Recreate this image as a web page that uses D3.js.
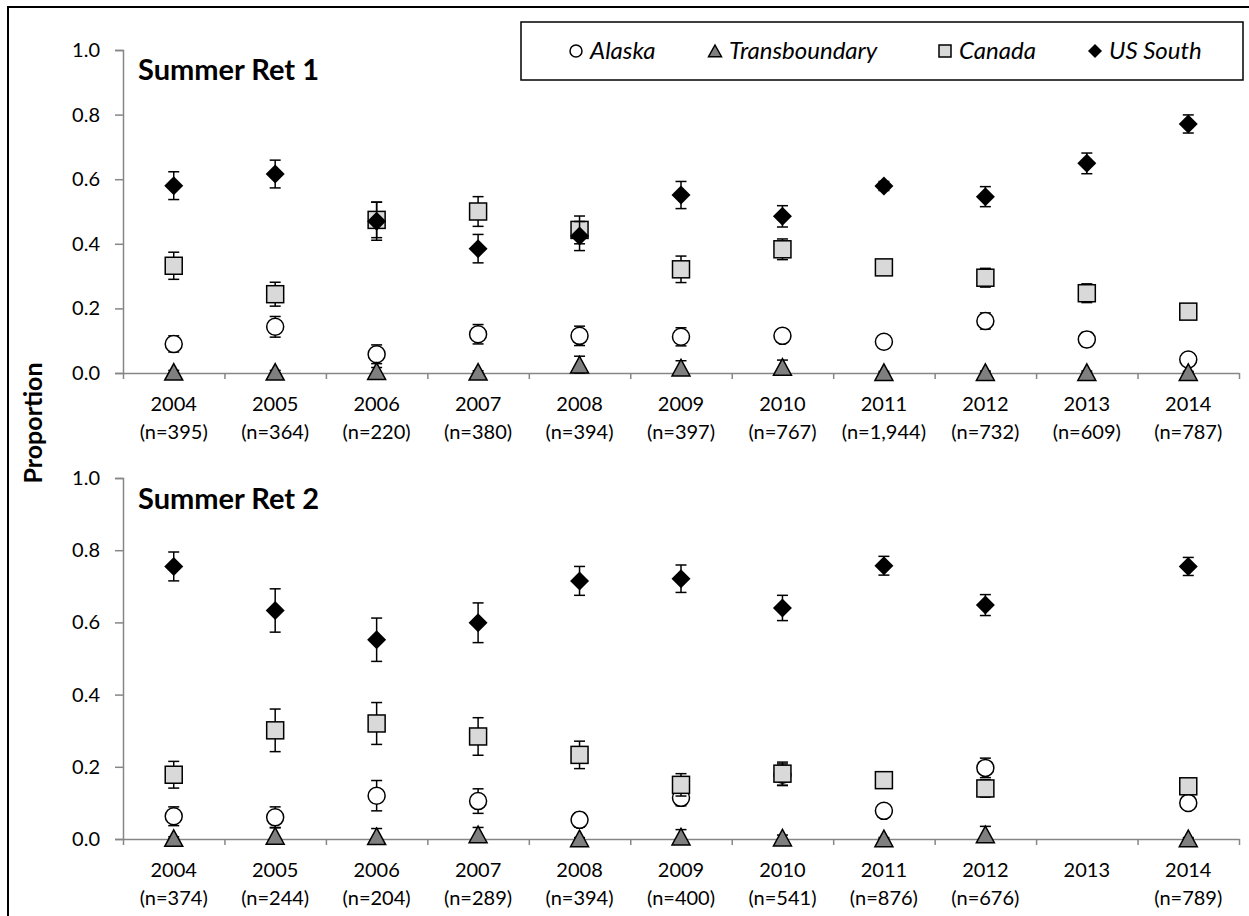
<!DOCTYPE html>
<html>
<head>
<meta charset="utf-8">
<script src="https://cdn.jsdelivr.net/npm/d3@7"></script>
<style>
  body { margin: 0; background: #fff; }
  svg { display: block; font-family: Lato, "Open Sans", sans-serif; }
</style>
</head>
<body>
<div id="chart"></div>
<script>
// years + sample size labels
const years = [2004, 2005, 2006, 2007, 2008, 2009, 2010, 2011, 2012, 2013, 2014];
const nRet1 = ["(n=395)", "(n=364)", "(n=220)", "(n=380)", "(n=394)", "(n=397)", "(n=767)", "(n=1,944)", "(n=732)", "(n=609)", "(n=787)"];
const nRet2 = ["(n=374)", "(n=244)", "(n=204)", "(n=289)", "(n=394)", "(n=400)", "(n=541)", "(n=876)", "(n=676)", "", "(n=789)"];
const yTicks = [0, 0.2, 0.4, 0.6, 0.8, 1.0];

// Summer Ret 1
const alaska1 = [0.090, 0.143, 0.058, 0.120, 0.115, 0.112, 0.115, 0.097, 0.161, 0.104, 0.042];
const alaska1Err = [0.025, 0.032, 0.029, 0.030, 0.030, 0.028, 0.020, 0.013, 0.025, 0.022, 0.014];
const trans1 = [0.003, 0.003, 0.005, 0.003, 0.025, 0.016, 0.018, 0.002, 0.002, 0.002, 0.002];
const trans1Err = [0.005, 0.005, 0.012, 0.004, 0.027, 0.022, 0.022, 0.003, 0.004, 0.004, 0.003];
const canada1 = [0.332, 0.244, 0.474, 0.500, 0.443, 0.321, 0.383, 0.327, 0.295, 0.247, 0.190];
const canada1Err = [0.042, 0.037, 0.055, 0.046, 0.043, 0.041, 0.032, 0.015, 0.029, 0.029, 0.020];
const usSouth1 = [0.580, 0.616, 0.470, 0.385, 0.424, 0.551, 0.485, 0.579, 0.546, 0.649, 0.771];
const usSouth1Err = [0.043, 0.043, 0.059, 0.044, 0.045, 0.042, 0.033, 0.014, 0.031, 0.032, 0.028];

// Summer Ret 2 (no 2013 sample)
const alaska2 = [0.063, 0.060, 0.120, 0.105, 0.053, 0.114, 0.178, 0.078, 0.197, null, 0.100];
const alaska2Err = [0.026, 0.029, 0.042, 0.034, 0.020, 0.022, 0.030, 0.015, 0.027, null, 0.018];
const trans2 = [0.002, 0.008, 0.007, 0.012, 0.001, 0.006, 0.003, 0.001, 0.012, null, 0.001];
const trans2Err = [0.004, 0.024, 0.022, 0.020, 0.003, 0.020, 0.008, 0.003, 0.023, null, 0.003];
const canada2 = [0.178, 0.301, 0.320, 0.284, 0.233, 0.150, 0.181, 0.163, 0.140, null, 0.146];
const canada2Err = [0.037, 0.059, 0.058, 0.052, 0.038, 0.031, 0.032, 0.012, 0.024, null, 0.012];
const usSouth2 = [0.755, 0.633, 0.552, 0.599, 0.715, 0.721, 0.640, 0.757, 0.648, null, 0.755];
const usSouth2Err = [0.040, 0.060, 0.060, 0.055, 0.040, 0.038, 0.035, 0.026, 0.029, null, 0.025];

const seriesNames = ["Alaska", "Transboundary", "Canada", "US South"];

var width = 1249, height = 916;
var axisColor = "#868686";

var svg = d3.select("#chart").append("svg")
    .attr("width", width)
    .attr("height", height);

// outer frame (only top/left edges show in the picture)
svg.append("rect")
    .attr("x", 8).attr("y", 7)
    .attr("width", 1270).attr("height", 940)
    .attr("fill", "none")
    .attr("stroke", "#000")
    .attr("stroke-width", 2);

function marker(g, type, size) {
    let s = size / 2;
    if (type === "Alaska") {
        g.append("circle").attr("r", s)
            .attr("fill", "#fff").attr("stroke", "#000").attr("stroke-width", 1.5);
    } else if (type === "Transboundary") {
        g.append("path")
            .attr("d", `M0,${-s}L${s + 0.5},${s * 0.95}L${-s - 0.5},${s * 0.95}Z`)
            .attr("fill", "#7f7f7f").attr("stroke", "#000").attr("stroke-width", 1.5);
    } else if (type === "Canada") {
        g.append("rect").attr("x", -s).attr("y", -s).attr("width", size).attr("height", size)
            .attr("fill", "#d9d9d9").attr("stroke", "#000").attr("stroke-width", 1.5);
    } else {
        g.append("path")
            .attr("d", `M0,${-s - 1}L${s + 1},0L0,${s + 1}L${-s - 1},0Z`)
            .attr("fill", "#000");
    }
}

function drawPanel(cfg) {
    var x = d3.scaleBand().domain(years).range([123, 1239]);
    var xi = d3.scaleLinear().domain([0, years.length]).range([123, 1239]);
    var y = d3.scaleLinear().domain([0, 1]).range([cfg.y0, cfg.y1]);

    var yAxis = svg.append("g")
        .attr("transform", "translate(123,0)")
        .call(d3.axisLeft(y).tickValues(yTicks).tickFormat(d3.format(".1f")).tickSize(8).tickPadding(15));
    yAxis.select(".domain").attr("stroke", axisColor).attr("stroke-width", 1.5);
    yAxis.selectAll(".tick line").attr("stroke", axisColor).attr("stroke-width", 1.5);
    yAxis.selectAll(".tick text").attr("font-size", 20).attr("fill", "#000")
        .attr("font-family", "Lato, sans-serif");

    var xAxis = svg.append("g")
        .attr("transform", `translate(0,${cfg.y0})`)
        .call(d3.axisBottom(xi).tickValues(d3.range(0, years.length + 1)).tickFormat("").tickSize(6).tickSizeOuter(0));
    xAxis.select(".domain").attr("stroke", axisColor).attr("stroke-width", 1.5);
    xAxis.selectAll(".tick line").attr("stroke", axisColor).attr("stroke-width", 1.5);

    var labels = svg.append("g").attr("font-size", 20).attr("text-anchor", "middle").attr("fill", "#000");
    labels.selectAll(".yr").data(years).enter().append("text")
        .attr("x", d => x(d) + x.bandwidth() / 2)
        .attr("y", cfg.y0 + 38)
        .text(d => d);
    labels.selectAll(".nl").data(cfg.n).enter().append("text")
        .attr("x", (d, i) => x(years[i]) + x.bandwidth() / 2)
        .attr("y", cfg.y0 + 66)
        .text(d => d);

    svg.append("text")
        .attr("x", 138).attr("y", cfg.titleY)
        .attr("font-size", 29).attr("font-weight", "bold")
        .text(cfg.title);

    cfg.series.forEach(function (s) {
        var pts = s.values.map((v, i) => ({ v: v, e: s.err[i], yr: years[i] }))
            .filter(d => d.v !== null);
        var g = svg.append("g");
        // error bars
        pts.forEach(function (d) {
            var cx = x(d.yr) + x.bandwidth() / 2;
            var top = y(d.v + d.e), bot = y(Math.max(0, d.v - d.e));
            g.append("line").attr("x1", cx).attr("x2", cx).attr("y1", top).attr("y2", bot)
                .attr("stroke", "#000").attr("stroke-width", 1.5);
            [top, bot].forEach(function (yy) {
                g.append("line").attr("x1", cx - 5.5).attr("x2", cx + 5.5).attr("y1", yy).attr("y2", yy)
                    .attr("stroke", "#000").attr("stroke-width", 1.5);
            });
        });
        pts.forEach(function (d) {
            var m = g.append("g")
                .attr("transform", `translate(${x(d.yr) + x.bandwidth() / 2},${y(d.v)})`);
            marker(m, s.name, 17);
        });
    });
}

drawPanel({
    y0: 373, y1: 50, titleY: 80, title: "Summer Ret 1", n: nRet1,
    series: [
        { name: "Alaska", values: alaska1, err: alaska1Err },
        { name: "Transboundary", values: trans1, err: trans1Err },
        { name: "Canada", values: canada1, err: canada1Err },
        { name: "US South", values: usSouth1, err: usSouth1Err }
    ]
});

drawPanel({
    y0: 839, y1: 478, titleY: 509, title: "Summer Ret 2", n: nRet2,
    series: [
        { name: "Alaska", values: alaska2, err: alaska2Err },
        { name: "Transboundary", values: trans2, err: trans2Err },
        { name: "Canada", values: canada2, err: canada2Err },
        { name: "US South", values: usSouth2, err: usSouth2Err }
    ]
});

// shared y label
svg.append("text")
    .attr("transform", "translate(42,423) rotate(-90)")
    .attr("text-anchor", "middle")
    .attr("font-size", 25).attr("font-weight", "bold")
    .text("Proportion");

// legend
var legend = svg.append("g");
legend.append("rect")
    .attr("x", 521).attr("y", 22).attr("width", 722).attr("height", 58)
    .attr("fill", "#fff").attr("stroke", "#000").attr("stroke-width", 1.5);
var legendX = [576, 715, 945, 1095];
seriesNames.forEach(function (name, i) {
    var m = legend.append("g").attr("transform", `translate(${legendX[i]},51)`);
    marker(m, name, 12);
    legend.append("text")
        .attr("x", legendX[i] + 14).attr("y", 59)
        .attr("font-size", 24).attr("font-style", "italic")
        .text(name);
});
</script>
</body>
</html>
